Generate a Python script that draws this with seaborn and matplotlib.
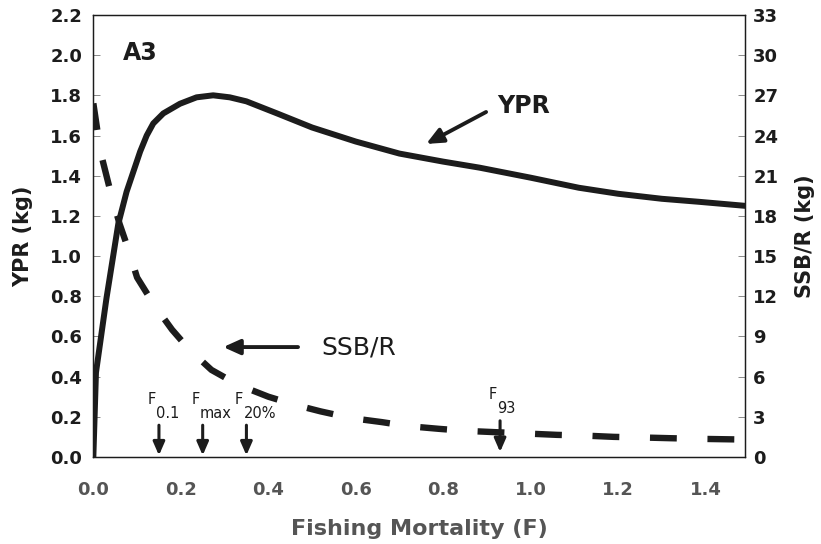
import numpy as np
import pandas as pd
import matplotlib
matplotlib.use('Agg')
import matplotlib.pyplot as plt
import seaborn as sns

# Curva de rendimiento por recluta (YPR, kg)
f_ypr = [0.0, 0.006, 0.03, 0.057, 0.076, 0.107, 0.122, 0.137, 0.16, 0.198, 0.236,
         0.274, 0.312, 0.35, 0.42, 0.50, 0.60, 0.70, 0.80, 0.883, 1.00, 1.11,
         1.20, 1.30, 1.385, 1.49]
ypr = [0.0, 0.42, 0.79, 1.16, 1.32, 1.52, 1.60, 1.66, 1.71, 1.758, 1.79,
       1.80, 1.79, 1.77, 1.71, 1.64, 1.57, 1.51, 1.47, 1.44, 1.39, 1.34,
       1.31, 1.285, 1.27, 1.25]

# Biomasa desovante por recluta (SSB/R, kg) - eje derecho
f_ssb = [0.0, 0.01, 0.02, 0.04, 0.06, 0.08, 0.10, 0.14, 0.18, 0.22, 0.27, 0.33,
         0.40, 0.46, 0.52, 0.59, 0.66, 0.72, 0.79, 0.85, 0.92, 0.99, 1.06, 1.12,
         1.19, 1.26, 1.32, 1.39, 1.49]
ssb = [26.4, 24.2, 22.3, 19.7, 17.4, 15.5, 13.4, 11.3, 9.5, 8.0, 6.5, 5.4,
       4.5, 3.9, 3.4, 2.9, 2.6, 2.3, 2.1, 1.95, 1.85, 1.75, 1.65, 1.6,
       1.5, 1.45, 1.4, 1.35, 1.3]

# Puntos de referencia biologicos
ref_nombres = ['0.1', 'max', '20%', '93']
ref_f = [0.15, 0.25, 0.35, 0.93]

x_ticks = [0.0, 0.2, 0.4, 0.6, 0.8, 1.0, 1.2, 1.4]
y_ticks = [0.0, 0.2, 0.4, 0.6, 0.8, 1.0, 1.2, 1.4, 1.6, 1.8, 2.0, 2.2]
y2_ticks = [0, 3, 6, 9, 12, 15, 18, 21, 24, 27, 30, 33]

datos_ypr = pd.DataFrame({'F': f_ypr, 'YPR': ypr})
datos_ssb = pd.DataFrame({'F': f_ssb, 'SSB': ssb})

sns.set_style('white')
plt.rcParams['font.family'] = ['DejaVu Sans']

negro = '#1c1c1c'
gris = '#555555'

fig = plt.figure(figsize=(8.21, 5.44), dpi=100)
ax = fig.add_axes([0.1137, 0.16, 0.7937, 0.8125])
ax2 = ax.twinx()

sns.lineplot(data=datos_ypr, x='F', y='YPR', ax=ax, color=negro, lw=4.3)
sns.lineplot(data=datos_ssb, x='F', y='SSB', ax=ax2, color=negro, lw=4.6)
linea_ssb = ax2.lines[0]
linea_ssb.set_linestyle((0, (4.2, 4.8)))
linea_ssb.set_dash_capstyle('butt')

ax.set_xlim(0, 1.49)
ax.set_ylim(0, 2.2)
ax2.set_ylim(0, 33)

ax.set_xticks(x_ticks)
ax.set_xticklabels([f'{v:.1f}' for v in x_ticks], fontsize=13, fontweight='bold', color=gris)
ax.set_xticks(np.arange(0.1, 1.5, 0.2), minor=True)
ax.set_yticks(y_ticks)
ax.set_yticklabels([f'{v:.1f}' for v in y_ticks], fontsize=13, fontweight='bold', color=negro)
ax2.set_yticks(y2_ticks)
ax2.set_yticklabels([str(v) for v in y2_ticks], fontsize=13, fontweight='bold', color=negro)

ax.tick_params(axis='x', which='major', direction='inout', length=11, width=0.8, pad=12, colors=negro,
               labelcolor=gris)
ax.tick_params(axis='x', which='minor', direction='in', length=3, width=0.6, colors=negro)
ax.tick_params(axis='y', direction='in', length=5, width=0.6, pad=8, colors='#777777', labelcolor=negro)
ax2.tick_params(axis='y', direction='in', length=5, width=0.6, pad=6, colors='#777777', labelcolor=negro)

for a in (ax, ax2):
    for s in a.spines.values():
        s.set_visible(True)
        s.set_linewidth(0.9)
        s.set_color(negro)

ax.set_xlabel('Fishing Mortality (F)', fontsize=16, fontweight='bold', color=gris, labelpad=14)
ax.set_ylabel('YPR (kg)', fontsize=15, fontweight='bold', color=negro, labelpad=12)
ax2.set_ylabel('SSB/R (kg)', fontsize=15, fontweight='bold', color=negro, rotation=90, labelpad=12)

ax.text(0.046, 0.913, 'A3', transform=ax.transAxes, ha='left', va='center',
        fontsize=17, fontweight='bold', color=negro)

flecha = dict(arrowstyle='-|>,head_length=1.0,head_width=0.45', lw=2.8, color=negro,
              shrinkA=0, shrinkB=0)
ax.annotate('', xy=(0.761, 1.558), xytext=(0.898, 1.717), arrowprops=flecha)
ax.text(0.924, 1.745, 'YPR', ha='left', va='center', fontsize=17, fontweight='bold', color=negro)
ax.annotate('', xy=(0.297, 0.547), xytext=(0.468, 0.547), arrowprops=flecha)
ax.text(0.522, 0.547, 'SSB/R', ha='left', va='center', fontsize=18, color=negro)

# Flechas de los puntos de referencia
flecha_ref = dict(arrowstyle='-|>,head_length=0.8,head_width=0.35', lw=2.2, color=negro,
                  shrinkA=0, shrinkB=0)
for nombre, f in zip(ref_nombres, ref_f):
    arriba = 0.18 if nombre == '93' else 0.158
    abajo = 0.025 if nombre == '93' else 0.008
    ax.annotate('', xy=(f, abajo), xytext=(f, arriba), arrowprops=flecha_ref)
    y_f = 0.31 if nombre == '93' else 0.285
    ax.text(f - 0.007, y_f, 'F', ha='right', va='center', fontsize=10.5, color=negro)
    ax.text(f - 0.006, y_f - 0.07, nombre, ha='left', va='center', fontsize=10.5, color=negro)

fig.savefig('out.png', dpi=100)
